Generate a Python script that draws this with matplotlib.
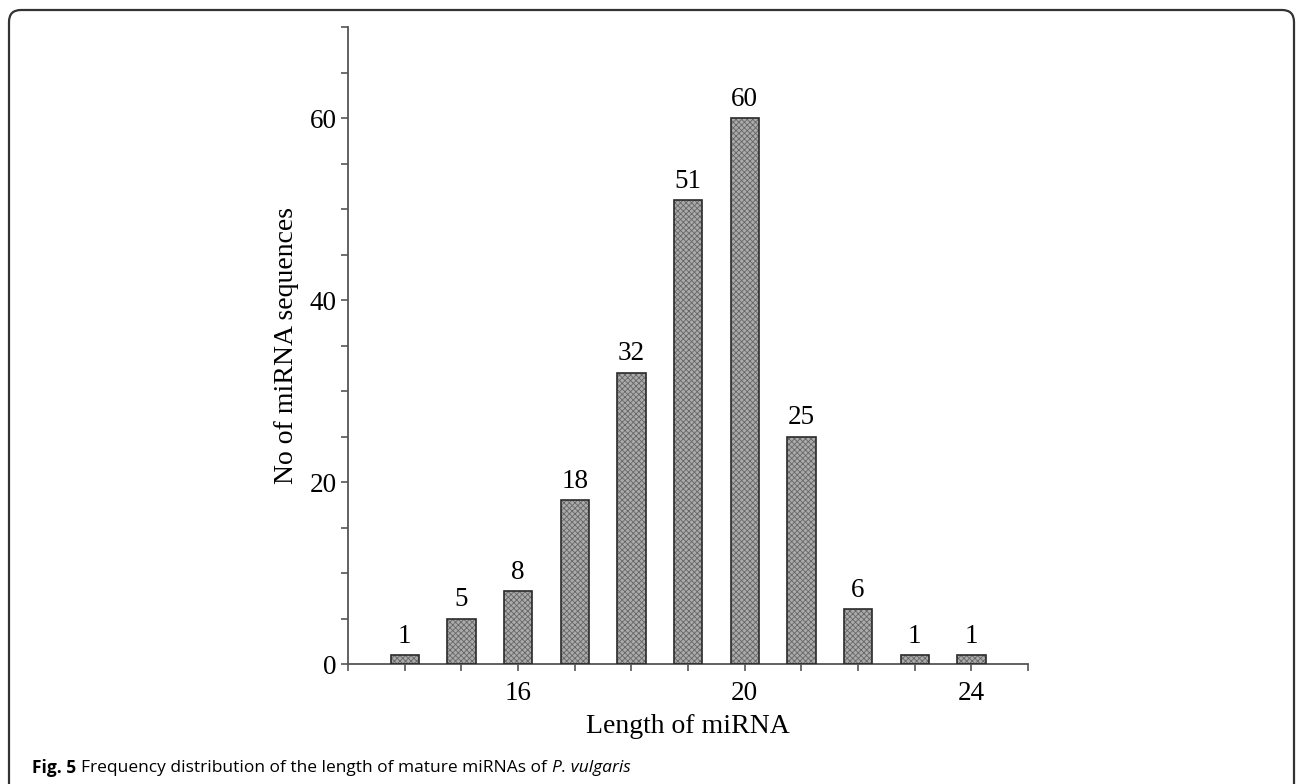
import numpy as np
import matplotlib
matplotlib.use('Agg')
from matplotlib import pyplot as plt
from matplotlib.patches import FancyBboxPatch

# dados
comprimentos = [14, 15, 16, 17, 18, 19, 20, 21, 22, 23, 24]
contagens = [1, 5, 8, 18, 32, 51, 60, 25, 6, 1, 1]
ticks_x = [16, 20, 24]
ticks_y = [0, 20, 40, 60]

plt.rcParams['font.family'] = ['Liberation Serif', 'DejaVu Serif']
plt.rcParams['hatch.linewidth'] = 0.6

fig = plt.figure(figsize=(12.96, 7.84), dpi=100)
ax = fig.add_axes([348/1296, 1 - 664/784, (1028-348)/1296, (664-27)/784])

# fundo cinza + hachura fina (imita o pontilhado)
ax.bar(comprimentos, contagens, width=0.5, color='#ababab', edgecolor='none', zorder=2)
ax.bar(comprimentos, contagens, width=0.5, color='none', edgecolor='#666666',
       hatch='xxxxxx', linewidth=0, zorder=3)
ax.bar(comprimentos, contagens, width=0.5, color='none', edgecolor='#2a2a2a',
       linewidth=1.2, zorder=4)

for x, y in zip(comprimentos, contagens):
    ax.text(x, y + 0.7, str(y), ha='center', va='bottom', fontsize=19.5)

ax.set_xlim(13, 25)
ax.set_ylim(0, 70)
ax.set_xticks(ticks_x)
ax.set_xticks(np.arange(13, 26), minor=True)
ax.set_yticks(ticks_y)
ax.set_yticks(np.arange(0, 71, 5), minor=True)
ax.tick_params(which='both', direction='out', length=5, width=1.2, color='#555555',
               labelsize=19.5, pad=3)
ax.tick_params(axis='x', pad=7)

for lado in ('top', 'right'):
    ax.spines[lado].set_visible(False)
for lado in ('left', 'bottom'):
    ax.spines[lado].set_color('#555555')
    ax.spines[lado].set_linewidth(1.3)

ax.set_xlabel('Length of miRNA', fontsize=20, labelpad=6)
ax.set_ylabel('No of miRNA sequences', fontsize=20, labelpad=8)

# moldura arredondada da legenda da figura
moldura = FancyBboxPatch((0.09, -0.3), 12.85, 7.74 + 0.3,
                         boxstyle='round,pad=0,rounding_size=0.12',
                         transform=fig.dpi_scale_trans, fill=False,
                         edgecolor='#333333', linewidth=1.6)
fig.patches.append(moldura)

y_leg = 1 - 768/784
t1 = fig.text(32/1296, y_leg, 'Fig. 5', fontsize=12.5, va='center',
              family='Open Sans', fontweight='bold')
fig.canvas.draw()
bb = t1.get_window_extent()
t2 = fig.text(bb.x1/1296 + 0.004, y_leg,
              'Frequency distribution of the length of mature miRNAs of',
              fontsize=12.5, va='center', family='Open Sans')
fig.canvas.draw()
bb = t2.get_window_extent()
fig.text(bb.x1/1296 + 0.004, y_leg, 'P. vulgaris', fontsize=12.5,
         va='center', family='Open Sans', style='italic')

fig.savefig('out.png', dpi=100)
